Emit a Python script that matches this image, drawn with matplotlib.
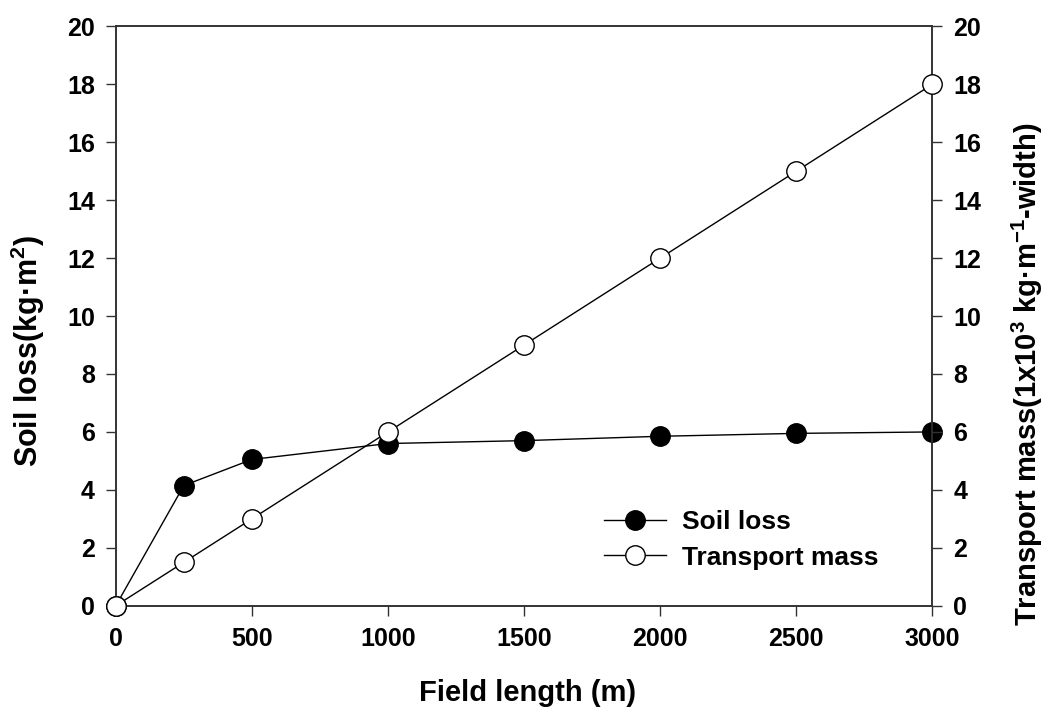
import numpy as np
import matplotlib.pyplot as plt

plt.rcParams['font.family'] = ['Liberation Sans', 'DejaVu Sans']
plt.rcParams['font.weight'] = 'bold'
plt.rcParams['mathtext.fontset'] = 'custom'
plt.rcParams['mathtext.rm'] = 'Liberation Sans:bold'
plt.rcParams['mathtext.it'] = 'Liberation Sans:bold'
plt.rcParams['mathtext.bf'] = 'Liberation Sans:bold'

# data
field_length = [0, 250, 500, 1000, 1500, 2000, 2500, 3000]
soil_loss = [0, 4.15, 5.05, 5.6, 5.7, 5.85, 5.95, 6.0]
transport_mass = [0, 1.5, 3, 6, 9, 12, 15, 18]
x_ticks = [0, 500, 1000, 1500, 2000, 2500, 3000]
y_ticks = list(range(0, 21, 2))

fig = plt.figure(figsize=(10.43, 7.11), dpi=100)
ax = fig.add_axes([0.111, 0.148, 0.783, 0.815])
ax2 = ax.twinx()

l1, = ax.plot(field_length, soil_loss, '-o', color='black', lw=1,
              ms=14, mfc='black', mec='black', mew=1, clip_on=False, zorder=5, label='Soil loss')
l2, = ax2.plot(field_length, transport_mass, '-o', color='black', lw=1,
               ms=14, mfc='white', mec='black', mew=1, clip_on=False, zorder=5, label='Transport mass')

ax.set_xlim(0, 3000)
ax.set_ylim(0, 20)
ax2.set_ylim(0, 20)
ax.set_xticks(x_ticks)
ax.set_yticks(y_ticks)
ax2.set_yticks(y_ticks)
for a in (ax, ax2):
    a.tick_params(direction='out', length=7, width=1, labelsize=18, pad=8, color='#333333')
    for lab in a.get_xticklabels() + a.get_yticklabels():
        lab.set_fontweight('bold')
    for s in a.spines.values():
        s.set_linewidth(1.2)
        s.set_color('#333333')

ax.set_xlabel('Field length (m)', fontsize=21, fontweight='bold', va='center')
ax.xaxis.set_label_coords(0.504, -0.15)
ax.set_ylabel(r'Soil loss(kg·m$^{2}$)', fontsize=22, fontweight='bold', va='center')
ax.yaxis.set_label_coords(-0.108, 0.44)
ax2.set_ylabel(r'Transport mass(1x10$^{3}$ kg·m$^{-1}$-width)', fontsize=21,
               fontweight='bold', va='center')
ax2.yaxis.set_label_coords(1.116, 0.40)

leg = ax.legend(handles=[l1, l2], loc='center left', bbox_to_anchor=(0.598, 0.114),
                frameon=False, handlelength=2.35, handletextpad=0.6, borderpad=0,
                borderaxespad=0, labelspacing=0.45, prop={'weight': 'bold', 'size': 19})

fig.savefig('out.png', dpi=100)
